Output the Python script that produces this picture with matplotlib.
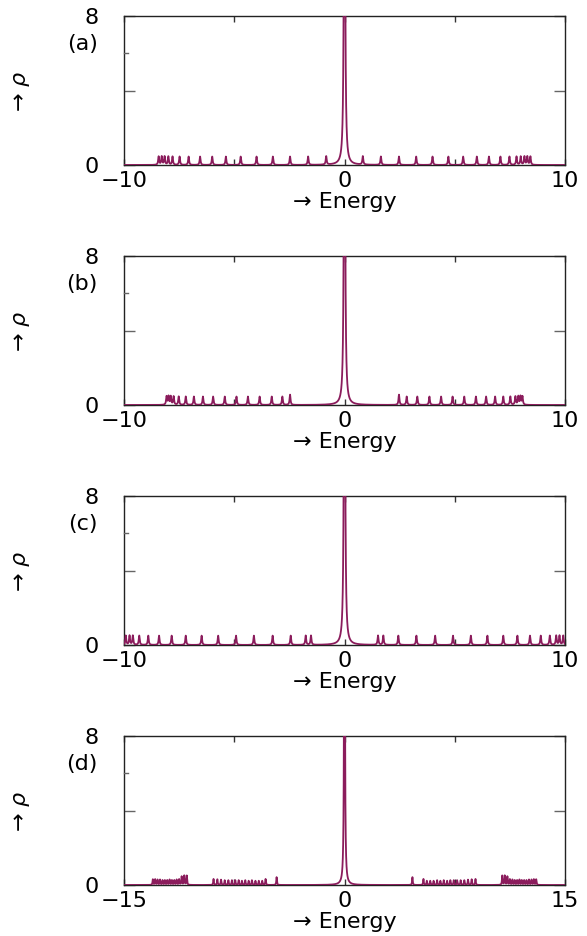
import numpy as np
import matplotlib
matplotlib.use("Agg")
import matplotlib.pyplot as plt

plt.rcParams['font.family'] = ['DejaVu Sans']
plt.rcParams['mathtext.fontset'] = 'dejavusans'

# ---- data (positive half; spectra are symmetric about E=0) ----
panel_labels = ['(a)', '(b)', '(c)', '(d)']
x_limits = [(-10, 10), (-10, 10), (-10, 10), (-15, 15)]
x_tick_values = [[-10, 0, 10], [-10, 0, 10], [-10, 0, 10], [-15, 0, 15]]
x_tick_labels = [['\u221210', '0', '10'], ['\u221210', '0', '10'],
                 ['\u221210', '0', '10'], ['\u221215', '0', '15']]

peaks_a = [0.83, 1.65, 2.47, 3.25, 3.99, 4.71, 5.38, 6.00, 6.55, 7.07, 7.48, 7.80,
           7.99, 8.16, 8.29, 8.43]
heights_a = [0.45] * 16

peaks_b = [2.47, 2.82, 3.30, 3.85, 4.38, 4.90, 5.43, 5.96, 6.42, 6.83, 7.20, 7.52,
           7.75, 7.88, 7.98, 8.07]
heights_b = [0.55, 0.45, 0.45, 0.45, 0.45, 0.45, 0.45, 0.45, 0.45, 0.45, 0.45, 0.45,
             0.45, 0.45, 0.45, 0.45]

peaks_c = [1.52, 1.76, 2.44, 3.26, 4.11, 4.92, 5.73, 6.48, 7.20, 7.84, 8.41, 8.90,
           9.31, 9.60, 9.75, 9.92]
heights_c = [0.5] * 16

peaks_d = [4.62, 5.37, 5.60, 5.83, 6.06, 6.30, 6.52, 6.75, 6.98, 7.20, 7.43, 7.66,
           7.90, 8.15, 8.40, 8.65, 8.91, 10.73, 10.90, 11.08, 11.25, 11.42, 11.58,
           11.74, 11.90, 12.06, 12.22, 12.38, 12.55, 12.72, 12.88, 13.04]
heights_d = [0.42, 0.32, 0.22, 0.22, 0.22, 0.25, 0.22, 0.25, 0.22, 0.25, 0.25, 0.25,
             0.25, 0.25, 0.28, 0.3, 0.32, 0.5, 0.5, 0.45, 0.3, 0.28, 0.25, 0.25,
             0.28, 0.25, 0.25, 0.25, 0.28, 0.28, 0.3, 0.3]

zero_mode_height = 32.0

all_peaks = [peaks_a, peaks_b, peaks_c, peaks_d]
all_heights = [heights_a, heights_b, heights_c, heights_d]

color = '#8b1c5c'
eta = 0.025

W, H = 587, 936
fig = plt.figure(figsize=(W / 100, H / 100), dpi=100)

fs = 16
for i in range(4):
    top = 16 + 240 * i
    ax = fig.add_axes([124 / W, 1 - (top + 149) / H, 441 / W, 149 / H])
    lo, hi = x_limits[i]
    E = np.linspace(lo, hi, 12001)
    pos = np.array(all_peaks[i])
    hts = np.array(all_heights[i])
    centers = np.concatenate([-pos, pos, [0.0]])
    amps = np.concatenate([hts, hts, [zero_mode_height]])
    rho = np.zeros_like(E)
    for c, a in zip(centers, amps):
        rho += a * eta ** 2 / ((E - c) ** 2 + eta ** 2)
    ax.plot(E, rho, color=color, lw=1.3, zorder=5)
    ax.set_xlim(lo, hi)
    ax.set_ylim(0, 8)
    for s in ax.spines.values():
        s.set_color('#222222')
        s.set_linewidth(1.0)
    ax.set_xticks(x_tick_values[i], x_tick_labels[i], fontsize=fs)
    ax.set_yticks([0, 4, 8], ['0', '', '8'], fontsize=fs)
    ax.tick_params(axis='y', direction='in', length=8, width=1.0, pad=18,
                   right=True, color='#666666')
    ax.tick_params(axis='x', direction='in', length=4, width=1.0, pad=4,
                   top=True, color='#333333')
    minor_x = [-5, 5] if hi == 10 else [-7.5, 7.5]
    ax.set_xticks(minor_x, minor=True)
    ax.tick_params(axis='x', which='minor', direction='in', length=4, width=1.0,
                   top=True, color='#333333')
    ax.set_xlabel('\u2192 Energy', fontsize=fs, labelpad=1)
    fig.text(22 / W, 1 - (top + 75) / H, '\u2192 $\\rho$', rotation=90,
             fontsize=fs, ha='center', va='center')
    fig.text(98 / W, 1 - (top + 28) / H, panel_labels[i], fontsize=fs,
             ha='right', va='center')
    ax.plot([lo, lo + (hi - lo) * 0.008], [6, 6], color='#666666', lw=1.0,
            clip_on=False, zorder=6)

fig.savefig('out.png', dpi=100)
